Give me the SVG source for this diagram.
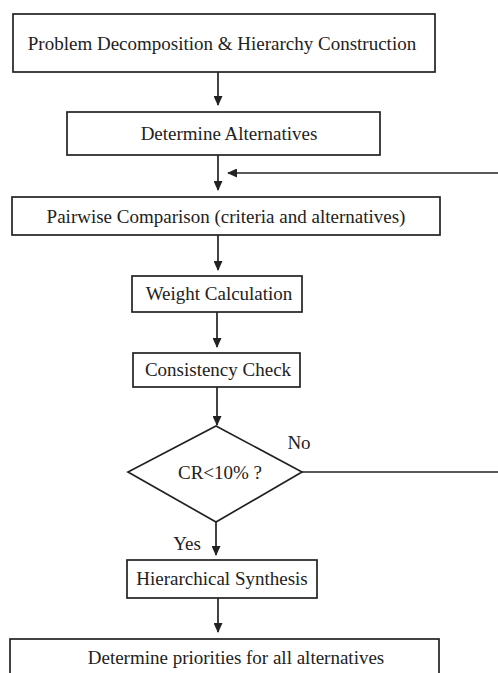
<svg xmlns="http://www.w3.org/2000/svg" width="498" height="673" viewBox="0 0 498 673">
<style>
.box{fill:#fff;stroke:#222;stroke-width:1.7}
.t{font-family:"Liberation Serif","Times New Roman",serif;font-size:19px;fill:#222;text-anchor:middle;dominant-baseline:central}
.ln{stroke:#222;stroke-width:1.7;fill:none}
</style>
<defs>
<marker id="ah" markerWidth="11" markerHeight="9" refX="10" refY="5" orient="auto" markerUnits="userSpaceOnUse" viewBox="0 0 11 10">
<path d="M0,0 L11,5 L0,10 z" fill="#222"/>
</marker>
</defs>
<rect width="498" height="673" fill="#fff"/>
<g id="n1"><rect class="box" x="13" y="14" width="422" height="58"/><text class="t" x="222" y="43">Problem Decomposition &amp; Hierarchy Construction</text></g>
<g id="n2"><rect class="box" x="67" y="112" width="313" height="43"/><text class="t" x="229" y="133">Determine Alternatives</text></g>
<g id="n3"><rect class="box" x="12" y="197" width="428" height="38"/><text class="t" x="226" y="216">Pairwise Comparison (criteria and alternatives)</text></g>
<g id="n4"><rect class="box" x="132" y="276" width="170" height="36"/><text class="t" x="219" y="293">Weight Calculation</text></g>
<g id="n5"><rect class="box" x="133" y="353" width="167" height="34"/><text class="t" x="218" y="369">Consistency Check</text></g>
<g id="n6"><polygon class="box" points="216,426 302,472 216,522 128,472"/><text class="t" x="220" y="472">CR&lt;10% ?</text></g>
<g id="n7"><rect class="box" x="127" y="560" width="190" height="38"/><text class="t" x="222" y="578">Hierarchical Synthesis</text></g>
<g id="n8"><rect class="box" x="10" y="639" width="429" height="40"/><text class="t" x="236" y="657">Determine priorities for all alternatives</text></g>
<g id="connectors">
<line class="ln" x1="218" y1="72" x2="218" y2="105" marker-end="url(#ah)"/>
<line class="ln" x1="218" y1="155" x2="218" y2="190" marker-end="url(#ah)"/>
<line class="ln" x1="498" y1="173" x2="228" y2="173" marker-end="url(#ah)"/>
<line class="ln" x1="218" y1="235" x2="218" y2="270" marker-end="url(#ah)"/>
<line class="ln" x1="217" y1="312" x2="217" y2="347" marker-end="url(#ah)"/>
<line class="ln" x1="217" y1="387" x2="217" y2="425" marker-end="url(#ah)"/>
<line class="ln" x1="302" y1="472" x2="498" y2="472"/>
<line class="ln" x1="216" y1="522" x2="216" y2="555" marker-end="url(#ah)"/>
<line class="ln" x1="218" y1="598" x2="218" y2="632" marker-end="url(#ah)"/>
<text class="t" x="299" y="442">No</text>
<text class="t" x="187" y="543">Yes</text>
</g>
</svg>
